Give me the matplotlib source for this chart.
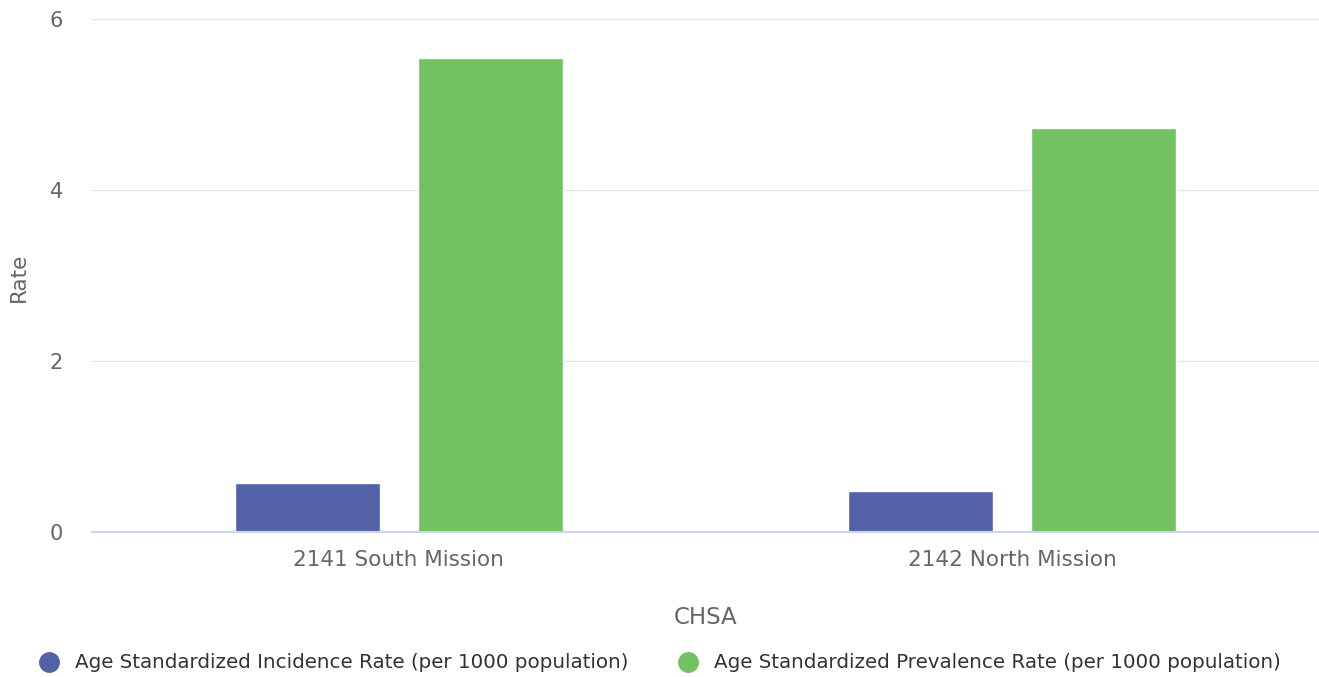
import matplotlib
matplotlib.use("Agg")
import matplotlib.pyplot as plt
from matplotlib.lines import Line2D
import numpy as np

categories = ["2141 South Mission", "2142 North Mission"]
series_names = ["Age Standardized Incidence Rate (per 1000 population)",
                "Age Standardized Prevalence Rate (per 1000 population)"]
incidence = [0.57, 0.48]
prevalence = [5.54, 4.72]
colors = ["#5362A6", "#72C162"]
yticks = [0, 2, 4, 6]

fig = plt.figure(figsize=(13.19, 6.77), dpi=100)
ax = fig.add_axes([92/1319, 1 - 532/677, 1 - 92/1319, (532 - 19)/677])

x = np.arange(len(categories))
w = 0.236
gap = 0.062
off = (w + gap) / 2
ax.bar(x - off, incidence, width=w, color=colors[0], edgecolor="white", linewidth=1, zorder=3)
ax.bar(x + off, prevalence, width=w, color=colors[1], edgecolor="white", linewidth=1, zorder=3)

ax.set_xlim(-0.5, 1.5)
ax.set_ylim(0, 6)
ax.set_yticks(yticks)
ax.set_yticklabels([str(t) for t in yticks])
ax.set_xticks(x)
ax.set_xticklabels(categories)
ax.grid(axis="y", color="#e6e6e6", linewidth=1, zorder=0)
for s in ["top", "right", "left"]:
    ax.spines[s].set_visible(False)
ax.spines["bottom"].set_color("#ccd6eb")
ax.spines["bottom"].set_linewidth(1.5)
ax.spines["bottom"].set_zorder(4)
ax.tick_params(axis="y", length=0, pad=21, labelsize=15, labelcolor="#666666")
ax.tick_params(axis="x", length=0, pad=13, labelsize=15.5, labelcolor="#666666")

fig.text(19/1319, 1 - 277/677, "Rate", rotation=90, ha="center", va="center",
         fontsize=15.5, color="#666666")
fig.text(706/1319, 1 - 617/677, "CHSA", ha="center", va="center",
         fontsize=16.5, color="#666666")

handles = [Line2D([], [], marker="o", linestyle="", markersize=14, color=c) for c in colors]
fig.legend(handles, series_names, loc="center", bbox_to_anchor=(655/1319, 1 - 663/677),
           ncol=2, frameon=False, fontsize=14.3, handletextpad=0.3, columnspacing=2.0,
           labelcolor="#333333")

fig.savefig("out.png", dpi=100)
